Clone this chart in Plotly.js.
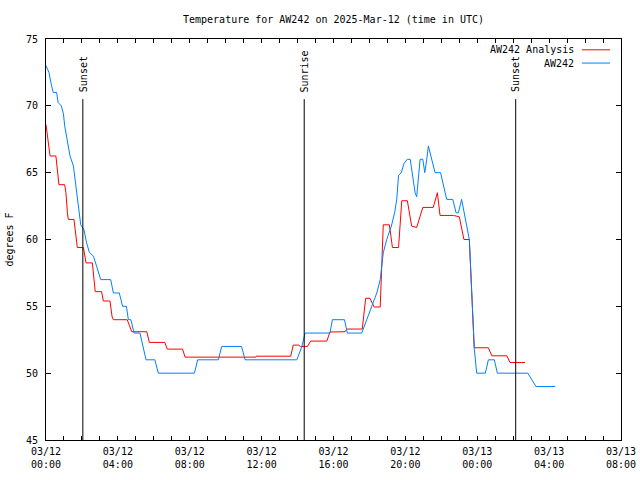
<!DOCTYPE html>
<html>
<head>
<meta charset="utf-8">
<script src="https://cdn.plot.ly/plotly-3.0.1.min.js"></script>
<style>html,body{margin:0;padding:0;background:#fff;}#chart{width:640px;height:480px;}</style>
</head>
<body>
<div id="chart"></div>
<script>
// Hours since 2025-03-12 00:00 UTC
const obsHours = [0, 0.165, 0.294, 0.404, 0.592, 0.672, 0.85, 0.97, 1.04, 1.188, 1.337, 1.526, 1.595, 1.685, 1.744, 1.804, 1.933, 2.11, 2.26, 2.41, 2.64, 2.816, 3.045, 3.6, 3.75, 4.077, 4.266, 4.475, 4.584, 4.723, 4.9, 5.23, 5.567, 6.06, 6.25, 8.26, 8.44, 9.59, 9.78, 10.88, 11.08, 13.96, 14.24, 14.42, 15.8, 15.94, 16.61, 16.77, 17.57, 17.85, 18.13, 18.41, 18.6, 18.69, 18.77, 18.96, 19.22, 19.4, 19.52, 19.62, 19.77, 19.93, 20.11, 20.27, 20.54, 20.63, 20.82, 20.97, 21.08, 21.19, 21.28, 21.65, 21.96, 22.3, 22.64, 22.82, 22.95, 23.13, 23.56, 23.84, 23.97, 24.45, 24.62, 24.95, 25.12, 26.81, 27.27, 28.34];
const obsTemp = [73, 72.5, 71.6, 71, 71, 70.25, 70, 69.4, 68.5, 67.5, 66.25, 65.5, 64.75, 64, 63.25, 62.25, 61.1, 60.75, 59.75, 59.05, 58.75, 58, 57, 57, 56, 56, 55, 55, 54, 54, 53, 53, 51, 51, 50, 50, 51, 51, 52, 52, 51, 51, 52, 53, 53, 54, 54, 53, 53, 54, 55, 56, 57, 58, 59, 60, 61, 62, 63, 64.8, 65, 65.7, 66, 66, 63.5, 63.2, 66, 66, 65, 66, 67, 65, 65, 63, 63, 62, 62, 63, 60, 51.75, 50, 50, 51, 51, 50, 50, 49, 49];

const anaHours = [0, 0.225, 0.55, 0.72, 1.04, 1.11, 1.19, 1.24, 1.556, 1.744, 2.08, 2.23, 2.58, 2.69, 2.74, 3.095, 3.19, 3.56, 3.68, 3.75, 4.52, 4.77, 5.61, 5.75, 6.61, 6.75, 7.6, 7.74, 8.66, 8.69, 10.65, 10.68, 11.67, 11.69, 13.62, 13.76, 14.06, 14.16, 14.55, 14.73, 15.63, 15.8, 16.64, 16.74, 17.6, 17.79, 18.03, 18.26, 18.6, 18.77, 19.11, 19.28, 19.62, 19.8, 20.11, 20.35, 20.63, 20.97, 21.55, 21.78, 21.93, 22.68, 23.0, 23.26, 23.56, 23.83, 24.62, 24.81, 25.65, 25.82, 26.66];
const anaTemp = [68.6, 66.25, 66.25, 64.1, 64.1, 63.5, 62, 61.5, 61.5, 59.4, 59.4, 58.25, 58.25, 56.5, 56.1, 56.1, 55.4, 55.4, 54.2, 54.0, 54.0, 53.1, 53.1, 52.3, 52.3, 51.8, 51.8, 51.2, 51.2, 51.15, 51.15, 51.2, 51.2, 51.27, 51.27, 52.1, 52.1, 52.0, 52.0, 52.4, 52.4, 53.08, 53.1, 53.3, 53.3, 55.6, 55.6, 54.95, 54.95, 61.1, 61.1, 59.4, 59.4, 62.9, 62.9, 61.0, 60.9, 62.4, 62.4, 63.5, 61.8, 61.8, 61.7, 60.0, 60.0, 51.9, 51.9, 51.3, 51.3, 50.8, 50.8];

const eventHours = [2.05, 14.37, 26.14];
const eventNames = ["Sunset", "Sunrise", "Sunset"];

const xTickVals = [0, 4, 8, 12, 16, 20, 24, 28, 32];
const xTickText = ["03/12<br>00:00", "03/12<br>04:00", "03/12<br>08:00", "03/12<br>12:00", "03/12<br>16:00", "03/12<br>20:00", "03/13<br>00:00", "03/13<br>04:00", "03/13<br>08:00"];
const yTickVals = [45, 50, 55, 60, 65, 70, 75];

const seriesNames = ["AW242 Analysis", "AW242"];
const seriesColors = ["#ff0000", "#0080ff"];

const FONT = "DejaVu Sans Mono, Liberation Mono, monospace";

const traces = [
  {x: anaHours, y: anaTemp, mode: "lines", name: seriesNames[0], line: {color: seriesColors[0], width: 1}, showlegend: false},
  {x: obsHours, y: obsTemp, mode: "lines", name: seriesNames[1], line: {color: seriesColors[1], width: 1}, showlegend: false}
];

const shapes = [];
const annotations = [];
eventHours.forEach((h, i) => {
  shapes.push({type: "line", xref: "x", yref: "paper", x0: h, x1: h, y0: 0, y1: 0.85, line: {color: "#000", width: 1}});
  annotations.push({xref: "x", yref: "paper", x: h, y: 0.862, text: eventNames[i], textangle: -90, showarrow: false, xanchor: "center", yanchor: "bottom", font: {family: FONT, size: 10, color: "#000"}});
});
// legend (text right-aligned, sample line on the right)
const legY = [0.973, 0.94];
seriesNames.forEach((n, i) => {
  annotations.push({xref: "paper", yref: "paper", x: 0.921, y: legY[i], text: n, showarrow: false, xanchor: "right", yanchor: "middle", font: {family: FONT, size: 10, color: "#000"}});
  shapes.push({type: "line", xref: "paper", yref: "paper", x0: 0.932, x1: 0.981, y0: legY[i], y1: legY[i], line: {color: seriesColors[i], width: 1}});
});

const layout = {
  width: 640, height: 480,
  margin: {l: 46, r: 19, t: 39, b: 40, pad: 0},
  paper_bgcolor: "#fff", plot_bgcolor: "#fff",
  font: {family: FONT, size: 10, color: "#000"},
  title: {text: "Temperature for AW242 on 2025-Mar-12 (time in UTC)", x: 0.5, xref: "paper", xanchor: "center", y: 0.96, yref: "container", yanchor: "middle", font: {family: FONT, size: 10, color: "#000"}},
  xaxis: {
    range: [0, 32], tickvals: xTickVals, ticktext: xTickText,
    ticks: "inside", ticklen: 4, tickcolor: "#000", tickwidth: 1,
    minor: {dtick: 1, tick0: 0, ticks: "inside", ticklen: 4, tickcolor: "#000", showgrid: false},
    showline: true, linecolor: "#000", linewidth: 1, mirror: "allticks",
    showgrid: false, zeroline: false, fixedrange: true,
    ticklabelstandoff: 2,
    tickfont: {family: FONT, size: 10, color: "#000"}
  },
  yaxis: {
    range: [45, 75], tickvals: yTickVals,
    ticks: "inside", ticklen: 5, tickcolor: "#000", tickwidth: 1,
    showline: true, linecolor: "#000", linewidth: 1, mirror: "allticks",
    showgrid: false, zeroline: false, fixedrange: true,
    ticklabelstandoff: 5,
    tickfont: {family: FONT, size: 10, color: "#000"},
    title: {text: "degrees F", standoff: 10, font: {family: FONT, size: 10, color: "#000"}}
  },
  shapes: shapes,
  annotations: annotations,
  showlegend: false
};

Plotly.newPlot("chart", traces, layout, {staticPlot: true, displayModeBar: false});
</script>
</body>
</html>
